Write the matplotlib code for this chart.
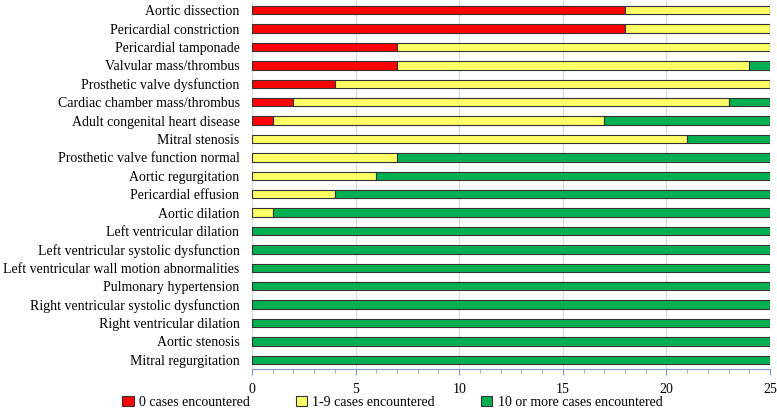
import matplotlib
matplotlib.use("Agg")
import matplotlib.pyplot as plt
from matplotlib.ticker import MultipleLocator
import numpy as np

plt.rcParams['font.family'] = ['Liberation Serif', 'DejaVu Serif']

categories = [
    "Aortic dissection", "Pericardial constriction", "Pericardial tamponade",
    "Valvular mass/thrombus", "Prosthetic valve dysfunction",
    "Cardiac chamber mass/thrombus", "Adult congenital heart disease",
    "Mitral stenosis", "Prosthetic valve function normal", "Aortic regurgitation",
    "Pericardial effusion", "Aortic dilation", "Left ventricular dilation",
    "Left ventricular systolic dysfunction", "Left ventricular wall motion abnormalities",
    "Pulmonary hypertension", "Right ventricular systolic dysfunction",
    "Right ventricular dilation", "Aortic stenosis", "Mitral regurgitation",
]
zero_cases = [18, 18, 7, 7, 4, 2, 1, 0, 0, 0, 0, 0, 0, 0, 0, 0, 0, 0, 0, 0]
few_cases = [7, 7, 18, 17, 21, 21, 16, 21, 7, 6, 4, 1, 0, 0, 0, 0, 0, 0, 0, 0]
many_cases = [0, 0, 0, 1, 0, 2, 8, 4, 18, 19, 21, 24, 25, 25, 25, 25, 25, 25, 25, 25]
series_names = ["0 cases encountered", "1-9 cases encountered", "10 or more cases encountered"]
colors = ["#FF0000", "#FFFF66", "#00B050"]

fig = plt.figure(figsize=(7.77, 4.17), dpi=100)
ax = fig.add_axes([252/777, 1 - 369/417, (770-252)/777, 368/417])

y = np.arange(len(categories))
left = np.zeros(len(categories))
for vals, name, c in zip([zero_cases, few_cases, many_cases], series_names, colors):
    ax.barh(y, vals, left=left, height=0.45, color=c, edgecolor="#333333",
            linewidth=0.8, label=name, zorder=3)
    left += np.array(vals)

ax.set_yticks(y)
ax.set_yticklabels(categories, fontsize=10)
ax.set_ylim(len(categories) - 0.5, -0.5)
ax.set_xlim(0, 25)
ax.xaxis.set_major_locator(MultipleLocator(5))
ax.xaxis.set_minor_locator(MultipleLocator(1))
ax.tick_params(axis='x', which='both', direction='out', colors="#7F9AC8", labelcolor="black",
               labelsize=10)
ax.tick_params(axis='x', which='major', length=4, pad=6)
ax.tick_params(axis='x', which='minor', length=3)
ax.tick_params(axis='y', length=0, pad=9)
for s in ['top', 'right', 'left']:
    ax.spines[s].set_visible(False)
ax.spines['bottom'].set_color("#7F9AC8")
ax.grid(axis='x', which='major', color="#D9D9D9", linewidth=0.8, zorder=0)

fig.legend(loc='lower center', bbox_to_anchor=(0.505, -0.01), ncol=3, frameon=False,
           fontsize=10, handlelength=0.8, handleheight=0.8, columnspacing=3.3,
           handletextpad=0.4)

fig.savefig("out.png", dpi=100)
